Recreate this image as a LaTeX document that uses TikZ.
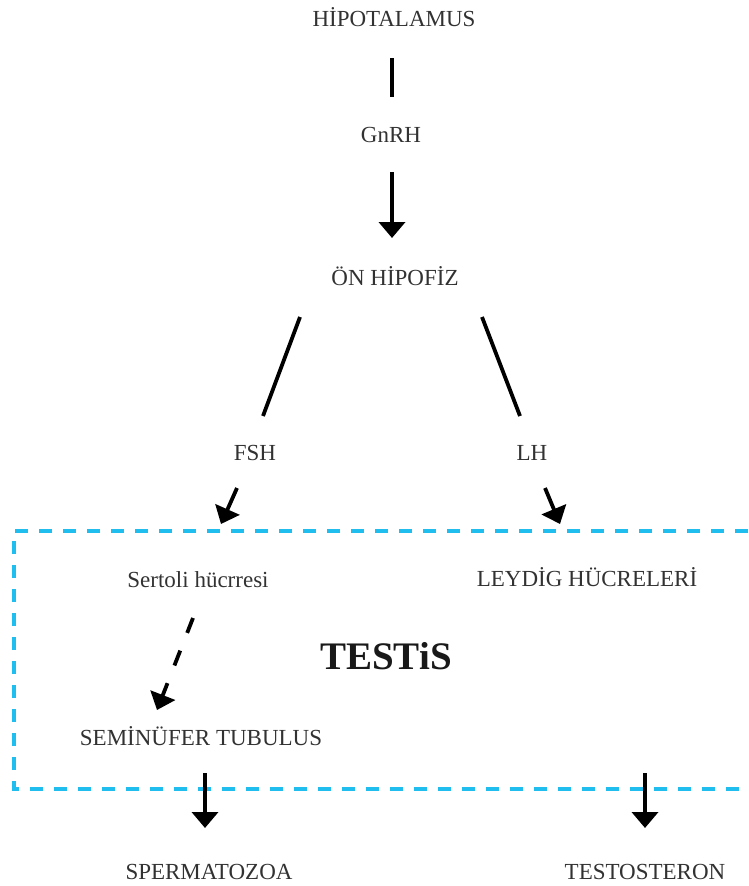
\documentclass[tikz,border=0pt]{standalone}
\usepackage{fontspec}
\setmainfont{Liberation Serif}
\usetikzlibrary{arrows.meta}
\definecolor{txt}{RGB}{50,50,50}
\definecolor{boxcyan}{RGB}{32,190,238}
\tikzset{
  lbl/.style={font=\fontsize{23}{27}\selectfont, text=txt, inner sep=0pt, anchor=base},
  big/.style={font=\fontsize{39}{44}\selectfont\bfseries, text=black!90, inner sep=0pt, anchor=base},
  conn/.style={line width=3.8pt, black},
  arr/.style={conn, -{Triangle[length=16pt,width=26pt]}},
  dasharr/.style={arr, dash pattern=on 16pt off 19pt},
  testisbox/.style={boxcyan, line width=4pt, dash pattern=on 13pt off 11pt}
}
\begin{document}
\begin{tikzpicture}[x=1pt,y=-1pt]
\useasboundingbox (0,0) rectangle (748,886);
% dashed box (open to the right)
\draw[testisbox] (748,531) -- (14,531) -- (14,789) -- (748,789);
% labels
\node[lbl] (hyp) at (394,27) {HİPOTALAMUS};
\node[lbl] (gnrh) at (391,142) {GnRH};
\node[lbl] (onh) at (395,285) {ÖN HİPOFİZ};
\node[lbl] (fsh) at (255,460) {FSH};
\node[lbl] (lh) at (532,460) {LH};
\node[lbl] (sert) at (198,587) {Sertoli hücrresi};
\node[lbl] (leyd) at (587,586) {LEYDİG HÜCRELERİ};
\node[big] (testis) at (386,669) {TESTiS};
\node[lbl] (semi) at (201,745) {SEMİNÜFER TUBULUS};
\node[lbl] (sperm) at (209,879) {SPERMATOZOA};
\node[lbl] (testo) at (645,879) {TESTOSTERON};
% connector end points
\coordinate (h1) at (392,58);  \coordinate (h2) at (392,97);
\coordinate (g1) at (392,172); \coordinate (g2) at (392,238);
\coordinate (oL1) at (300,317); \coordinate (oL2) at (263,416);
\coordinate (oR1) at (482,317); \coordinate (oR2) at (520,416);
\coordinate (f1) at (237,488); \coordinate (f2) at (221,524);
\coordinate (l1) at (545,488); \coordinate (l2) at (560,524);
\coordinate (s1) at (193,618); \coordinate (s2) at (157,710);
\coordinate (b1) at (205,773); \coordinate (b2) at (205,828);
\coordinate (c1) at (645,773); \coordinate (c2) at (645,828);
% connectors
\draw[conn] (h1) -- (h2);
\draw[arr] (g1) -- (g2);
\draw[conn] (oL1) -- (oL2);
\draw[conn] (oR1) -- (oR2);
\draw[arr] (f1) -- (f2);
\draw[arr] (l1) -- (l2);
\draw[dasharr] (s1) -- (s2);
\draw[arr] (b1) -- (b2);
\draw[arr] (c1) -- (c2);
\end{tikzpicture}
\end{document}
